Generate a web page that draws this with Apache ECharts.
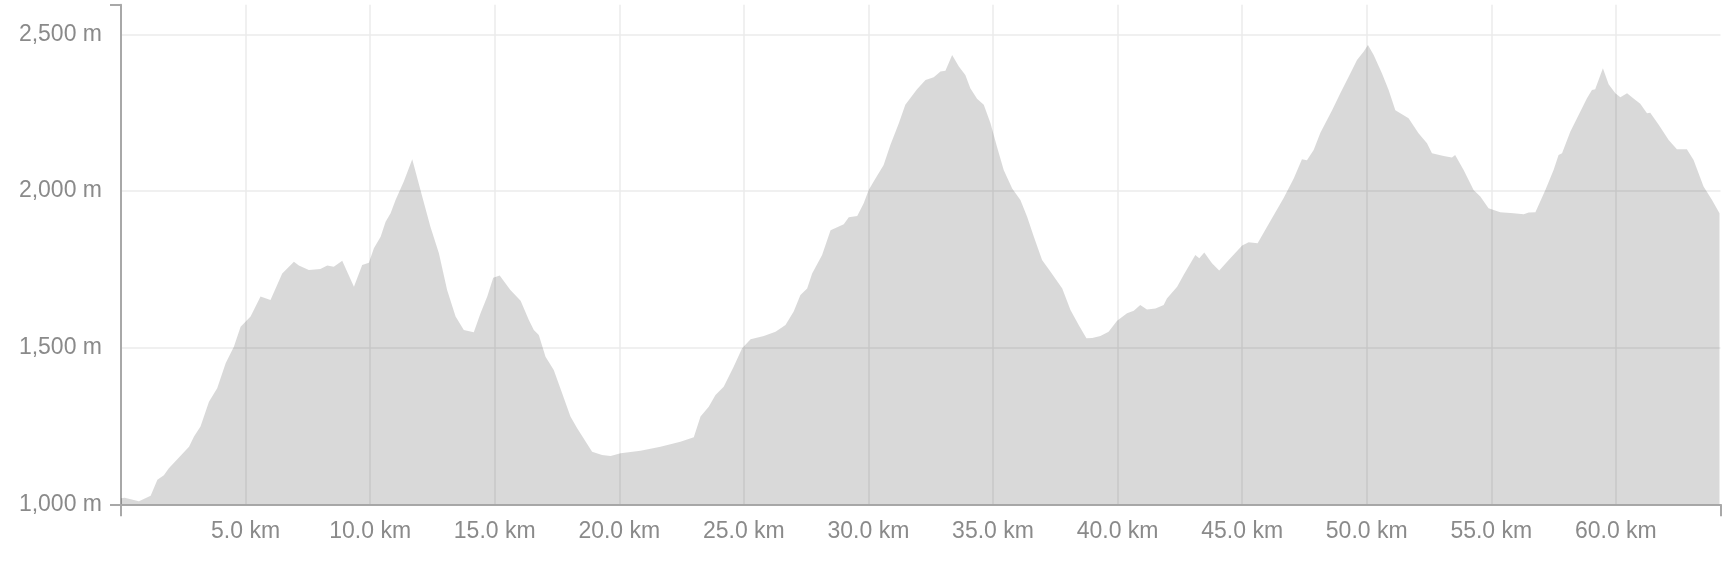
<!DOCTYPE html>
<html>
<head>
<meta charset="utf-8">
<script src="https://cdn.jsdelivr.net/npm/echarts@6/dist/echarts.min.js"></script>
<style>
html,body{margin:0;padding:0;background:#fff;}
#chart{width:1732px;height:562px;}
</style>
</head>
<body>
<div id="chart"></div>
<script>
// Distance along route (km)
const distanceKm = [0,0.15,0.72,1.19,1.46,1.72,1.92,2.73,2.93,3.19,3.53,3.86,4.2,4.53,4.8,5.2,5.6,6.0,6.47,6.94,7.14,7.54,8.0,8.28,8.54,8.88,9.35,9.68,9.95,10.15,10.42,10.62,10.82,11.02,11.35,11.69,12.02,12.42,12.76,13.09,13.43,13.76,14.16,14.43,14.7,14.94,15.2,15.63,16.04,16.37,16.57,16.77,17.04,17.37,17.71,18.04,18.31,18.91,19.31,19.65,20.05,20.85,21.65,22.45,22.99,23.26,23.59,23.86,24.19,24.59,24.93,25.27,25.8,26.27,26.67,27.0,27.27,27.54,27.74,28.14,28.48,29.01,29.21,29.55,29.81,30.01,30.21,30.61,30.88,31.22,31.48,31.95,32.29,32.62,32.89,33.09,33.36,33.63,33.89,34.09,34.36,34.63,34.9,35.16,35.43,35.77,36.1,36.37,36.64,36.97,37.31,37.78,38.11,38.44,38.75,38.98,39.31,39.64,39.98,40.38,40.65,40.91,41.18,41.52,41.85,41.98,42.39,42.65,43.12,43.28,43.48,43.79,44.08,44.46,45.0,45.26,45.62,46.0,46.66,47.07,47.4,47.6,47.87,48.14,48.61,48.94,49.28,49.61,49.88,50.05,50.28,50.61,50.88,51.15,51.35,51.68,52.08,52.42,52.62,53.09,53.42,53.55,53.89,54.29,54.56,54.89,55.36,55.9,56.3,56.5,56.77,57.17,57.5,57.7,57.84,58.17,58.5,58.84,59.04,59.17,59.48,59.71,59.98,60.18,60.45,60.71,60.98,61.25,61.38,61.72,62.12,62.45,62.85,63.12,63.52,63.86,64.16];
// Elevation (m)
const elevationM = [1019,1021,1010,1027,1078,1093,1115,1184,1216,1248,1327,1370,1450,1503,1567,1599,1663,1652,1737,1774,1762,1748,1751,1762,1758,1777,1694,1764,1771,1817,1854,1902,1929,1971,2030,2101,2003,1886,1801,1684,1599,1556,1549,1610,1663,1723,1730,1684,1650,1588,1556,1540,1471,1429,1354,1280,1243,1168,1157,1154,1163,1171,1184,1200,1214,1280,1311,1349,1375,1439,1498,1527,1537,1551,1572,1615,1668,1689,1737,1796,1875,1894,1916,1920,1961,2003,2030,2083,2147,2216,2275,2325,2354,2363,2381,2384,2434,2397,2370,2328,2294,2275,2216,2141,2067,2008,1971,1918,1854,1780,1742,1689,1620,1572,1530,1531,1537,1551,1586,1610,1618,1636,1622,1625,1636,1657,1694,1732,1796,1785,1804,1769,1746,1780,1826,1836,1833,1886,1977,2040,2101,2098,2131,2186,2258,2312,2365,2418,2445,2466,2434,2376,2322,2258,2248,2232,2184,2152,2120,2112,2107,2115,2067,2003,1982,1945,1932,1929,1926,1931,1932,2003,2067,2115,2120,2189,2242,2296,2322,2325,2392,2341,2312,2299,2312,2295,2278,2248,2250,2211,2163,2133,2133,2099,2014,1971,1929];
// Axis ticks / labels
const xLabelTicks = [5,10,15,20,25,30,35,40,45,50,55,60];
const yLabelTicks = [1000,1500,2000,2500];
const xRange = [0, 64.2];
const yRange = [1000, 2594.5];

const points = distanceKm.map((d, i) => [d, elevationM[i]]);

const textColor = '#8a8a8a';
const axisColor = '#a8a8a8';
const gridColor = '#ebebeb';
const fontFamily = '"Helvetica Neue", Helvetica, Arial, "Liberation Sans", sans-serif';

const chart = echarts.init(document.getElementById('chart'), null, {renderer: 'canvas'});
chart.setOption({
  animation: false,
  backgroundColor: '#ffffff',
  grid: {left: 121, right: 11.5, top: 4.7, bottom: 57.7, containLabel: false},
  xAxis: [
    {
      type: 'value', min: xRange[0], max: xRange[1],
      axisLine: {show: true, lineStyle: {color: axisColor, width: 2}},
      axisTick: {show: true, length: 12, customValues: xRange, lineStyle: {color: axisColor, width: 2}},
      axisLabel: {
        show: true, customValues: xLabelTicks, margin: 16,
        color: textColor, fontSize: 23, fontFamily: fontFamily,
        formatter: v => v.toFixed(1) + ' km'
      },
      splitLine: {show: false}
    },
    {
      type: 'value', min: xRange[0], max: xRange[1], interval: 5, position: 'bottom',
      axisLine: {show: false}, axisTick: {show: false}, axisLabel: {show: false},
      splitLine: {show: true, showMinLine: false, showMaxLine: false, lineStyle: {color: gridColor, width: 1.5}}
    }
  ],
  yAxis: [
    {
      type: 'value', min: yRange[0], max: yRange[1],
      axisLine: {show: true, lineStyle: {color: axisColor, width: 2}},
      axisTick: {show: true, length: 11, customValues: yRange, lineStyle: {color: axisColor, width: 2}},
      axisLabel: {
        show: true, customValues: yLabelTicks, margin: 19,
        color: textColor, fontSize: 23, fontFamily: fontFamily,
        formatter: v => v.toLocaleString('en-US') + ' m'
      },
      splitLine: {show: false}
    },
    {
      type: 'value', min: yRange[0], max: yRange[1], interval: 500, position: 'left',
      axisLine: {show: false}, axisTick: {show: false}, axisLabel: {show: false},
      splitLine: {show: true, showMinLine: false, showMaxLine: false, lineStyle: {color: gridColor, width: 1.5}}
    }
  ],
  series: [{
    type: 'line',
    xAxisIndex: 0, yAxisIndex: 0,
    data: points,
    showSymbol: false,
    smooth: false,
    lineStyle: {width: 0, opacity: 0},
    areaStyle: {color: 'rgba(0,0,0,0.15)', opacity: 1, origin: 'start'},
    z: 3
  }]
});
</script>
</body>
</html>
